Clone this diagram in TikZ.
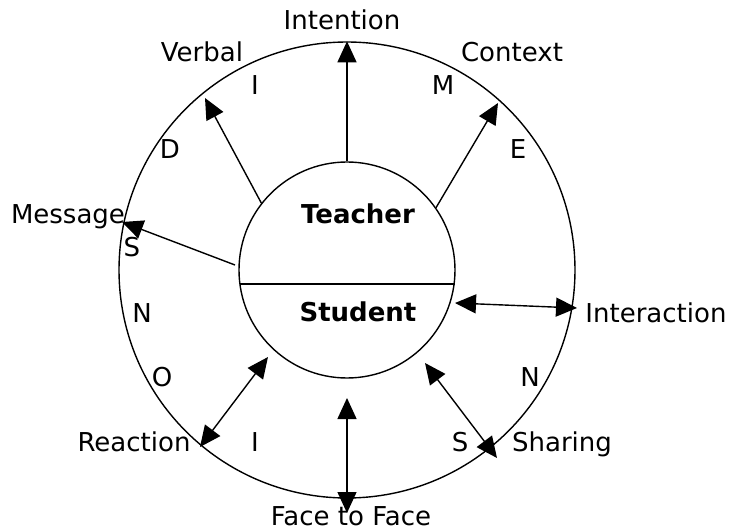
\documentclass[tikz,border=0pt]{standalone}
\usepackage{fontspec}
\setmainfont{DejaVu Sans}
\usetikzlibrary{arrows.meta}

\begin{document}
\begin{tikzpicture}[
  x=1pt, y=-1pt,
  ring/.style={draw, circle, line width=1.4pt, inner sep=0pt},
  word/.style={anchor=base, inner sep=0pt, font=\fontsize{26}{30}\selectfont},
  role/.style={anchor=base, inner sep=0pt, font=\fontsize{26}{30}\selectfont\bfseries},
  link/.style={-{Triangle[length=21pt,width=19pt]}, line width=1.4pt},
  both/.style={{Triangle[length=21pt,width=19pt]}-{Triangle[length=21pt,width=19pt]}, line width=1.4pt}
]
  \useasboundingbox (0,0) rectangle (732,532);

  % Circles
  \node[ring, minimum size=456pt] (outer) at (347,270) {};
  \node[ring, minimum size=216pt] (inner) at (347,270) {};
  \coordinate (cutL) at (240,284);
  \coordinate (cutR) at (455,284);
  \draw[line width=1.4pt] (cutL) -- (cutR);

  \node[role] (teacher) at (358,224) {Teacher};
  \node[role] (student) at (358,322) {Student};

  % Arrow ends
  \coordinate (verbtip) at (205,98);
  \coordinate (contip) at (498,103);
  \coordinate (msgfrom) at (235,265);
  \coordinate (msgtip) at (122,222);
  \coordinate (intA) at (455,303);
  \coordinate (intB) at (577,308);
  \coordinate (reaA) at (268,357);
  \coordinate (reaB) at (200,447);
  \coordinate (faceA) at (347,398);
  \coordinate (faceB) at (347,513);
  \coordinate (shaA) at (425,363);
  \coordinate (shaB) at (497,458);

  % Arrows
  \draw[link] (inner.north) -- (outer.north);
  \draw[link] (inner.142) -- (verbtip);
  \draw[link] (inner.35) -- (contip);
  \draw[link] (msgfrom) -- (msgtip);
  \draw[both] (intA) -- (intB);
  \draw[both] (reaA) -- (reaB);
  \draw[both] (faceA) -- (faceB);
  \draw[both] (shaA) -- (shaB);

  % Labels
  \node[word] (intention) at (342,30) {Intention};
  \node[word] (verbal) at (202,62) {Verbal};
  \node[word] (context) at (512,62) {Context};
  \node[word] (message) at (68,224) {Message};
  \node[word] (interaction) at (656,323) {Interaction};
  \node[word] (reaction) at (134,451) {Reaction};
  \node[word] (sharing) at (562,451) {Sharing};
  \node[word] (face) at (351,525) {Face to Face};

  % Letters round the ring
  \node[word] (l1) at (255,95) {I};
  \node[word] (l2) at (443,95) {M};
  \node[word] (l3) at (170,159) {D};
  \node[word] (l4) at (518,159) {E};
  \node[word] (l5) at (132,257) {S};
  \node[word] (l6) at (142,323) {N};
  \node[word] (l7) at (162,386) {O};
  \node[word] (l8) at (255,451) {I};
  \node[word] (l9) at (460,451) {S};
  \node[word] (l10) at (530,386) {N};
\end{tikzpicture}
\end{document}
